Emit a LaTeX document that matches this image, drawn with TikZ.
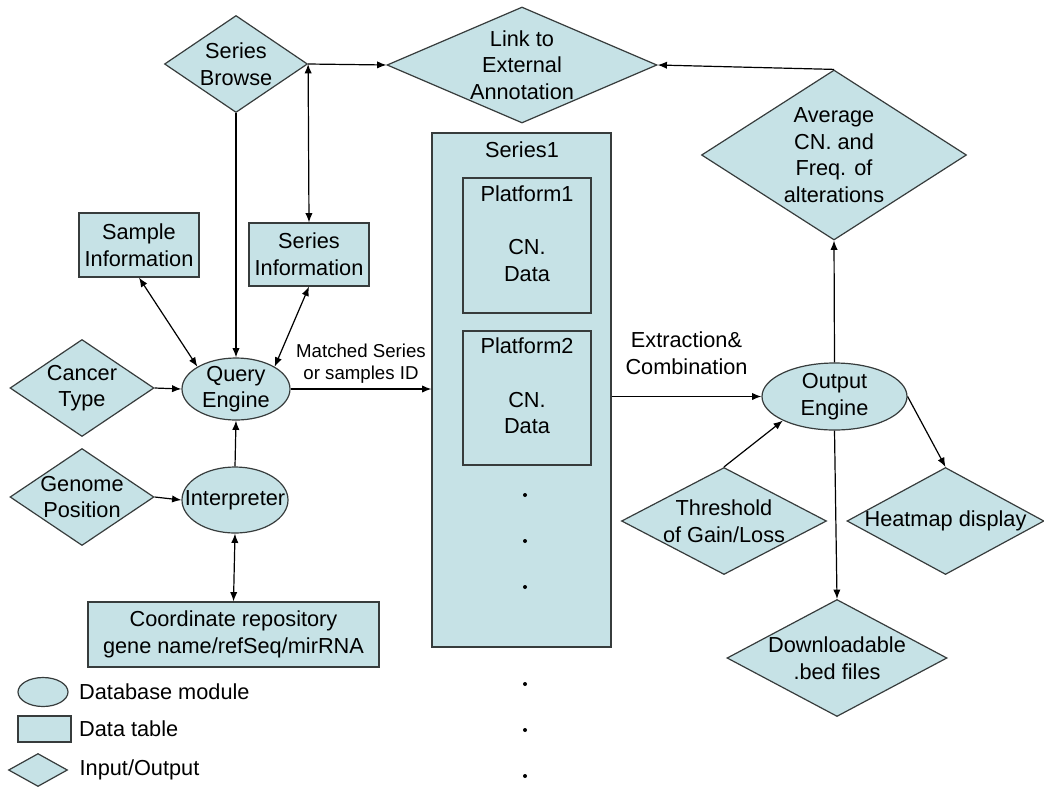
\documentclass[tikz,border=0pt]{standalone}
\usepackage{fontspec}
\setmainfont{Liberation Sans}
\usetikzlibrary{arrows.meta,shapes,positioning}
\definecolor{boxfill}{RGB}{198,226,230}
\definecolor{linec}{RGB}{55,60,60}
\tikzset{
style1/.style= {ellipse, draw=linec, fill=boxfill, line width=0.9pt, inner sep=0pt},
style2/.style= {rectangle, draw=linec, fill=boxfill, line width=0.9pt, align=center, inner sep=0pt},
style3/.style= {diamond, draw=linec, fill=boxfill, line width=0.9pt, inner sep=0pt},
style4/.style= {align=center, inner sep=0pt},
style5/.style= {align=center, inner sep=0pt, font=\fontsize{14}{16.5}\selectfont}
}

\begin{document}
\begin{tikzpicture}[
x=0.75pt, y=-0.75pt,
line width=0.9pt,
>={Latex[length=7pt,width=5.5pt]},
font=\fontsize{16.3}{20}\selectfont]
\useasboundingbox (0,0) rectangle (1044,789);

% input / output
\node[style3, minimum width=107.25pt, minimum height=72.75pt, label={[style4]center:{Series\\Browse}}] (browse) at (236,64) {};
\node[style3, minimum width=202.5pt, minimum height=87pt, label={[style4]center:{Link to\\External\\Annotation}}] (link) at (522,65) {};
\node[style3, minimum width=198.75pt, minimum height=127.5pt, label={[style4]center:{Average\\CN. and\\Freq. of\\alterations}}] (avg) at (834,155) {};
\node[style3, minimum width=108pt, minimum height=72.75pt, label={[style4]center:{Cancer\\Type}}] (cancer) at (82,388) {};
\node[style3, minimum width=108pt, minimum height=72.75pt, label={[style4]center:{Genome\\Position}}] (genome) at (82,497) {};
\node[style3, minimum width=153.75pt, minimum height=80.25pt, label={[style4]center:{Threshold\\of Gain/Loss}}] (thresh) at (724,521) {};
\node[style3, minimum width=147.75pt, minimum height=80.25pt, label={[style4]center:{Heatmap display}}] (heat) at (945.5,521) {};
\node[style3, minimum width=165pt, minimum height=87.75pt, label={[style4]center:{Downloadable\\.bed files}}] (bed) at (837,658) {};

% data tables
\node[style2, minimum width=90pt, minimum height=48pt] (sample) at (139,245) {Sample\\Information};
\node[style2, minimum width=90pt, minimum height=47.25pt] (serinfo) at (309,254.5) {Series\\Information};
\node[style2, minimum width=218.25pt, minimum height=48.75pt] (coord) at (233.5,634.5) {Coordinate repository\\gene name/refSeq/mirRNA};
\node[style2, minimum width=134.25pt, minimum height=385.5pt] (series1) at (521.5,390) {};
\node[style4] (s1name) at (522,150) {Series1};
\node[style2, minimum width=96pt, minimum height=101.25pt, label={[style4,yshift=9pt]center:{Platform1\\[20pt]CN.\\Data}}] (plat1) at (527,245.5) {};
\node[style2, minimum width=96pt, minimum height=100.5pt, label={[style4,yshift=9pt]center:{Platform2\\[20pt]CN.\\Data}}] (plat2) at (527,398) {};
\foreach \y in {495,541,587,684,730,776}
  \fill (525,\y) circle (1.5pt);

% database modules
\node[style1, minimum width=81pt, minimum height=46.5pt, label={[style4]center:{Query\\Engine}}] (query) at (236,389) {};
\node[style1, minimum width=79.5pt, minimum height=49.5pt, label={[style4]center:{Interpreter}}] (interp) at (235,500) {};
\node[style1, minimum width=108.75pt, minimum height=50.25pt, label={[style4]center:{Output\\Engine}}] (output) at (834.5,396.5) {};

% legend
\node[style1, minimum width=37.5pt, minimum height=21.75pt] (leg1) at (43,692) {};
\node[style4, right=7.5pt of leg1] (legtext1) {Database module};
\node[style2, minimum width=39.75pt, minimum height=19.5pt] (leg2) at (44.5,729) {};
\node[style4, right=5.25pt of leg2] (legtext2) {Data table};
\node[style3, minimum width=44.25pt, minimum height=24.75pt] (leg3) at (38,770) {};
\node[style4, right=8.25pt of leg3] (legtext3) {Input/Output};

% connectors
\draw[->] (browse.east) -- (link.west);
\draw[->] (avg.north) -- (link.east);
\draw[->] (output.north) -- (avg.south);
\draw[->] (browse.south) -- (query.north);
\draw[<->] (browse.east) -- (serinfo.north);
\draw[<->] (sample.south) -- (query.150);
\draw[<->] (serinfo.south) -- (query.30);
\draw[->] (cancer.east) -- (query.west);
\draw[->] (genome.east) -- (interp.west);
\draw[->] (interp.north) -- (query.south);
\draw[<->] (interp.south) -- (coord.north);
\draw[->] (query.east) -- (query.east -| series1.west)
  node[style5, midway, above=4pt] (matched) {Matched Series\\or samples ID};
\draw[->] (output.west -| series1.east) -- (output.west)
  node[style4, midway, above=16pt] (extract) {Extraction\&\\Combination};
\draw[->] (thresh.north) -- (output.205);
\draw[->] (output.east) -- (heat.north);
\draw[->] (output.south) -- (bed.north);
\end{tikzpicture}
\end{document}
